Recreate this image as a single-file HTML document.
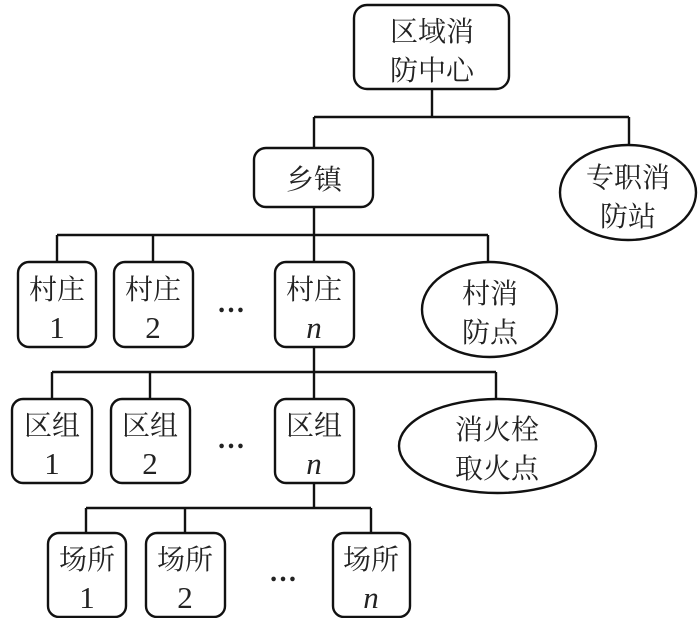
<!DOCTYPE html>
<html><head><meta charset="utf-8"><style>
html,body{margin:0;padding:0;background:#fff}
text{font-family:"Liberation Serif","Noto Serif CJK SC",serif;font-size:28px;fill:#222;text-anchor:middle}
text.d{font-size:31px}
text.e{font-weight:bold;font-size:28px}
</style></head><body>
<svg width="700" height="618" viewBox="0 0 700 618" xmlns="http://www.w3.org/2000/svg">
<g fill="none" stroke="#111" stroke-width="2.4">
<path d="M432 89V117M314 117H629M314 117V148M629 117V145"/>
<path d="M314 207V235M57 235H488M57 235V262M153 235V262M314 235V262M488 235V262"/>
<path d="M314 347V372M52 372H496M52 372V399M150 372V399M314 372V399M496 372V399"/>
<path d="M314 483V508M86 508H371M86 508V533M185 508V533M371 508V533"/>
<rect x="354" y="5" width="155" height="84" rx="13"/>
<rect x="254" y="148" width="119" height="59" rx="12"/>
<ellipse cx="628" cy="192.5" rx="68" ry="47.5"/>
<rect x="18" y="262" width="78" height="85" rx="11"/>
<rect x="114" y="262" width="79" height="85" rx="11"/>
<rect x="275" y="262" width="79" height="85" rx="11"/>
<ellipse cx="489.5" cy="309.5" rx="67.5" ry="47.5"/>
<rect x="12" y="399" width="80" height="84" rx="11"/>
<rect x="111" y="399" width="79" height="84" rx="11"/>
<rect x="275" y="399" width="79" height="84" rx="11"/>
<ellipse cx="497.5" cy="446" rx="98.5" ry="47"/>
<rect x="48" y="533" width="78" height="84" rx="11"/>
<rect x="146" y="533" width="79" height="84" rx="11"/>
<rect x="333" y="533" width="77" height="84" rx="11"/>
</g>
<text x="432" y="41">区域消</text><text x="432" y="80">防中心</text>
<text x="314" y="189">乡镇</text>
<text x="628" y="187">专职消</text><text x="628" y="226">防站</text>
<text x="57" y="299">村庄</text><text class="d" x="57" y="338">1</text>
<text x="153" y="299">村庄</text><text class="d" x="153" y="338">2</text>
<text x="314" y="299">村庄</text><text class="d" x="314" y="338" font-style="italic">n</text>
<text class="e" x="231" y="312">…</text>
<text x="490" y="303">村消</text><text x="490" y="342">防点</text>
<text x="52" y="435">区组</text><text class="d" x="52" y="474">1</text>
<text x="150" y="435">区组</text><text class="d" x="150" y="474">2</text>
<text x="314" y="435">区组</text><text class="d" x="314" y="474" font-style="italic">n</text>
<text class="e" x="231" y="448">…</text>
<text x="497" y="439">消火栓</text><text x="497" y="478">取火点</text>
<text x="87" y="569">场所</text><text class="d" x="87" y="608">1</text>
<text x="185" y="569">场所</text><text class="d" x="185" y="608">2</text>
<text x="371" y="569">场所</text><text class="d" x="371" y="608" font-style="italic">n</text>
<text class="e" x="283" y="581">…</text>
</svg>
</body></html>
